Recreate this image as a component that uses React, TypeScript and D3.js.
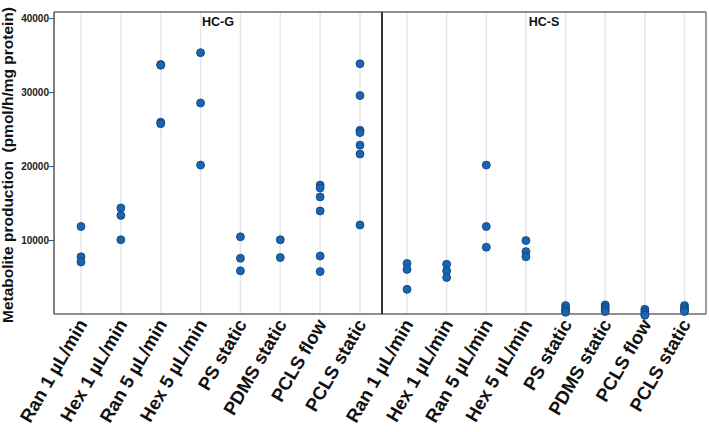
import React from "react";
import * as d3 from "d3";

const categories = [
  "Ran 1 µL/min",
  "Hex 1 µL/min",
  "Ran 5 µL/min",
  "Hex 5 µL/min",
  "PS static",
  "PDMS static",
  "PCLS flow",
  "PCLS static",
];
const panels = ["HC-G", "HC-S"];

const hcgValues: number[][] = [
  [11900, 7800, 7100],
  [14400, 13400, 10100],
  [33800, 33700, 26000, 25800],
  [35400, 28600, 20200],
  [10500, 7600, 5900],
  [10100, 7700],
  [17500, 17100, 15900, 14000, 7900, 5800],
  [33900, 29600, 24900, 24600, 22900, 21700, 12100],
];
const hcsValues: number[][] = [
  [6900, 6100, 3400],
  [6800, 5900, 5000],
  [20200, 11900, 9100],
  [10000, 8500, 7800],
  [1200, 800, 500, 300],
  [1300, 1000, 700, 400],
  [700, 400, 100, -100],
  [1200, 900, 600, 400],
];
const yTicks = [10000, 20000, 30000, 40000];
const yLabel = "Metabolite production  (pmol/h/mg protein)";

const W = 709;
const H = 432;
const left = 54;
const top = 12;
const bottom = 314;
const divider = 382;
const right = 706;

export default function App() {
  const y = d3.scaleLinear().domain([0, 40900]).range([314.5, top]);
  const panelData = [hcgValues, hcsValues];
  const xScales = [
    d3.scalePoint<string>().domain(categories).range([left + 27, divider - 22]),
    d3.scalePoint<string>().domain(categories).range([divider + 25, right - 21.5]),
  ];
  const font = "'Liberation Sans', Arial, sans-serif";
  const dotFill = "#1a64b4";
  const dotStroke = "#0e3f78";

  return (
    <svg
      width={W}
      height={H}
      style={{ position: "absolute", left: 0, top: 0, background: "#fff" }}
      fontFamily={font}
    >
      {/* gridlines */}
      {xScales.map((xs, pi) =>
        categories.map((c) => (
          <line
            key={`g${pi}-${c}`}
            x1={xs(c)}
            x2={xs(c)}
            y1={top}
            y2={bottom}
            stroke="#e6e6ec"
            strokeWidth={1.5}
          />
        ))
      )}
      {/* frame */}
      <line x1={left} x2={right} y1={top} y2={top} stroke="#6a6a6a" strokeWidth={1.3} />
      <line x1={left} x2={right} y1={bottom} y2={bottom} stroke="#6a6a6a" strokeWidth={1.3} />
      <line x1={right} x2={right} y1={top} y2={bottom} stroke="#6a6a6a" strokeWidth={1.3} />
      <line x1={left} x2={left} y1={top} y2={bottom} stroke="#4a4a4a" strokeWidth={1.4} />
      <line x1={divider} x2={divider} y1={top} y2={bottom} stroke="#1e1e1e" strokeWidth={1.8} />

      {/* y axis ticks */}
      {yTicks.map((t) => (
        <g key={`yt${t}`}>
          <line x1={left - 5} x2={left} y1={y(t)} y2={y(t)} stroke="#4a4a4a" strokeWidth={1} />
          <text
            x={left - 5}
            y={y(t)}
            dy="0.35em"
            textAnchor="end"
            fontSize={10}
            fontWeight="bold"
            fill="#222"
          >
            {t}
          </text>
        </g>
      ))}

      {/* y label */}
      <text
        transform={`translate(13, ${(top + bottom) / 2 + 2}) rotate(-90)`}
        textAnchor="middle"
        fontSize={15.5}
        fontWeight="bold"
        fill="#111"
        style={{ whiteSpace: "pre" }}
      >
        {yLabel}
      </text>

      {/* panel titles */}
      {panels.map((p, pi) => {
        const x0 = pi === 0 ? left : divider;
        const x1 = pi === 0 ? divider : right;
        return (
          <text
            key={p}
            x={(x0 + x1) / 2}
            y={26}
            textAnchor="middle"
            fontSize={12.5}
            fontWeight="bold"
            fill="#111"
          >
            {p}
          </text>
        );
      })}

      {/* x labels */}
      {xScales.map((xs, pi) =>
        categories.map((c) => (
          <text
            key={`xl${pi}-${c}`}
            transform={`translate(${(xs(c) as number) + 7}, 324) rotate(-60)`}
            textAnchor="end"
            fontSize={18.5}
            fontWeight="bold"
            fill="#111"
          >
            {c}
          </text>
        ))
      )}

      {/* points */}
      {panelData.map((vals, pi) =>
        vals.map((arr, ci) =>
          arr.map((v, k) => (
            <circle
              key={`p${pi}-${ci}-${k}`}
              cx={xScales[pi](categories[ci])}
              cy={y(v)}
              r={4}
              fill={dotFill}
              stroke={dotStroke}
              strokeWidth={0.8}
            />
          ))
        )
      )}
    </svg>
  );
}
